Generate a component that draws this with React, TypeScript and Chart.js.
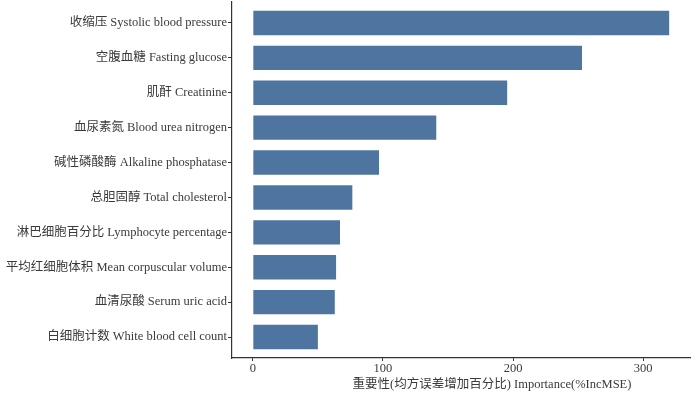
import React, { useEffect, useRef } from "react";
import { Chart, registerables } from "chart.js";

Chart.register(...registerables);

const categories = [
  "收缩压 Systolic blood pressure",
  "空腹血糖 Fasting glucose",
  "肌酐 Creatinine",
  "血尿素氮 Blood urea nitrogen",
  "碱性磷酸酶 Alkaline phosphatase",
  "总胆固醇 Total cholesterol",
  "淋巴细胞百分比 Lymphocyte percentage",
  "平均红细胞体积 Mean corpuscular volume",
  "血清尿酸 Serum uric acid",
  "白细胞计数 White blood cell count",
];
const importance = [320, 253, 195.5, 141, 97, 76.5, 67, 64, 63, 50];
const xTickValues = [0, 100, 200, 300];
const xTitle = "重要性(均方误差增加百分比) Importance(%IncMSE)";

const FONT = "'Liberation Serif', 'Times New Roman', 'Noto Sans CJK SC', serif";
const TEXT = "#3a3a3a";
const AXIS = "#333333";
const BAR = "#4e75a0";

export default function App() {
  const ref = useRef<HTMLCanvasElement | null>(null);

  useEffect(() => {
    if (!ref.current) return;
    const titlePlugin = {
      id: "xTitle",
      afterDraw(chart: any) {
        const ctx = chart.ctx;
        ctx.save();
        ctx.font = `12.5px ${FONT}`;
        ctx.fillStyle = TEXT;
        ctx.textAlign = "center";
        ctx.textBaseline = "middle";
        ctx.fillText(xTitle, 492, 385);
        ctx.restore();
      },
    };
    const chart = new Chart(ref.current, {
      type: "bar",
      data: {
        datasets: [
          {
            data: importance.map((v, i) => ({ x: v, y: i + 1 })) as any,
            backgroundColor: BAR,
            borderWidth: 0,
            categoryPercentage: 1,
            barPercentage: 0.7,
          },
        ],
      },
      options: {
        indexAxis: "y",
        animation: false,
        responsive: false,
        layout: { padding: { top: 2, right: 6, bottom: 0, left: 0 } },
        plugins: { legend: { display: false }, tooltip: { enabled: false } },
        scales: {
          y: {
            type: "linear",
            min: 0.4,
            max: 10.6,
            reverse: true,
            offset: false,
            afterBuildTicks: (scale: any) => {
              scale.ticks = categories.map((_, i) => ({ value: i + 1 }));
            },
            afterFit: (scale: any) => {
              scale.width = 232;
              scale.paddingTop = 0;
              scale.paddingBottom = 0;
            },
            ticks: {
              autoSkip: false,
              padding: 1,
              color: TEXT,
              font: { family: FONT, size: 12.5 },
              callback: (v: any) => categories[Math.round(Number(v)) - 1],
            },
            grid: { offset: false, drawOnChartArea: false, tickLength: 4, tickColor: AXIS, tickWidth: 1 },
            border: { color: AXIS, width: 1.2 },
          },
          x: {
            type: "linear",
            min: -16,
            max: 336,
            offset: false,
            afterBuildTicks: (scale: any) => {
              scale.ticks = xTickValues.map((v) => ({ value: v }));
            },
            afterFit: (scale: any) => {
              scale.height = 40;
              scale.paddingLeft = 0;
              scale.paddingRight = 0;
            },
            ticks: {
              padding: 0,
              color: TEXT,
              font: { family: FONT, size: 12.5 },
              maxRotation: 0,
            },
            grid: { offset: false, drawOnChartArea: false, tickLength: 3, tickColor: AXIS, tickWidth: 1 },
            border: { color: AXIS, width: 1.2 },
          },
        },
      },
      plugins: [titlePlugin],
    } as any);
    return () => chart.destroy();
  }, []);

  return (
    <div style={{ position: "fixed", left: 0, top: 0, width: 696, height: 398, background: "#fff" }}>
      <canvas ref={ref} width={696} height={398} style={{ width: 696, height: 398, display: "block" }} />
    </div>
  );
}
